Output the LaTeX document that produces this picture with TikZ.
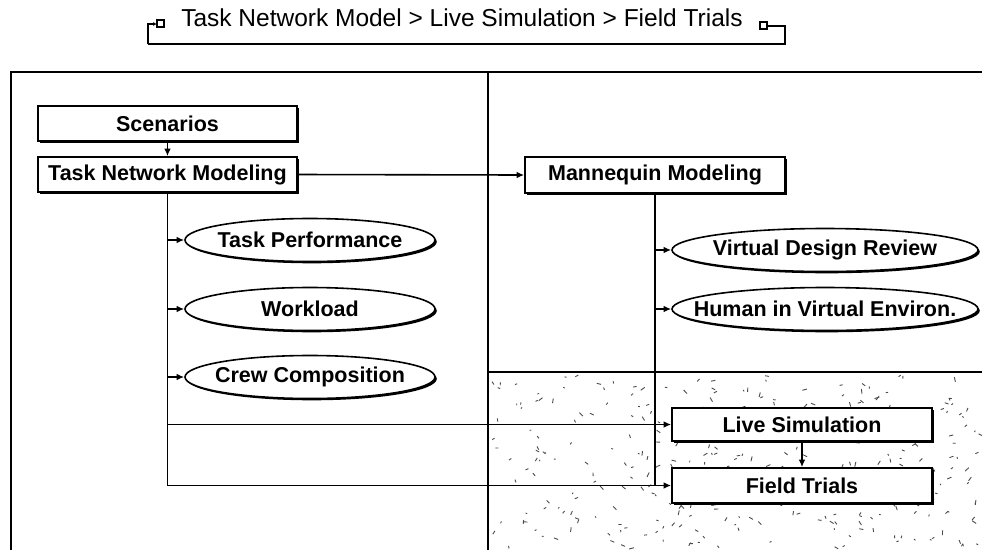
\documentclass[tikz,border=0pt]{standalone}
\usepackage{fontspec}
\setmainfont{Liberation Sans}
\usetikzlibrary{arrows.meta,shapes.geometric,shadows}
\begin{document}
\begin{tikzpicture}[x=1pt,y=-1pt,
  line width=1.6pt,
  arr/.style={-{Latex[length=7.5pt,width=6.5pt]}},
  shad/.style={drop shadow={shadow xshift=1.8pt,shadow yshift=-1.8pt,fill=black,opacity=1}},
  boxnode/.style={draw,fill=white,rectangle,minimum width=259pt,minimum height=35pt,inner sep=0pt,font=\fontsize{21.5}{23}\selectfont\bfseries,shad},
  ellnode/.style={draw,fill=white,ellipse,minimum height=43pt,inner xsep=-40pt,inner ysep=0pt,font=\fontsize{21.5}{23}\selectfont\bfseries,shad},
]
\useasboundingbox (0,0) rectangle (982,550);
\fill[white] (0,0) rectangle (982,550);

% stippled region
\pgfmathsetseed{4711}
\foreach \i in {1,...,330}{
  \pgfmathsetmacro\px{490+rnd*490}
  \pgfmathsetmacro\py{375+rnd*173}
  \pgfmathsetmacro\pa{rnd*180}
  \pgfmathsetmacro\pl{1.5+rnd*3.5}
  \draw[black!70,line width=0.9pt] (\px,\py) -- ++(\pa:\pl);
}

% frame and dividers
\draw (982,72) -- (11,72) -- (11,550);
\draw (488,72) -- (488,550);
\draw (488,372) -- (982,372);

% title
\node[anchor=base,font=\fontsize{24.5}{26}\selectfont] (title) at (462,26) {Task Network Model > Live Simulation > Field Trials};
\coordinate (tl) at (148,24);
\coordinate (tr) at (785,26);
\draw[line width=1.2pt] (157,20) rectangle (164,27);
\draw[line width=1.2pt,-{Latex[length=4pt,width=4pt]}] (148,44) -- (tl) -- (157,24);
\draw[line width=1.2pt] (148,44) -- (785,44) -- (tr) -- (767,26);
\draw[line width=1.2pt,fill=white] (760,22) rectangle (767,29);

% boxes
\node[boxnode] (sc) at (167.5,123.5) {Scenarios};
\node[boxnode] (tnm) at (167.5,174.5) {Task Network Modeling};
\node[boxnode,minimum width=260pt,minimum height=36pt] (mm) at (655,175) {Mannequin Modeling};
\node[boxnode,minimum width=260pt,minimum height=33pt] (ls) at (802,424.5) {Live Simulation};
\node[boxnode,minimum width=260pt,minimum height=35pt] (ft) at (802,485.5) {Field Trials};

% ellipses
\node[ellnode,minimum width=250pt] (tp) at (310,240) {Task Performance};
\node[ellnode,minimum width=250pt] (wl) at (310,309) {Workload};
\node[ellnode,minimum width=250pt] (cc) at (310,377) {Crew Composition};
\node[ellnode,minimum width=306pt] (vdr) at (825,250) {Virtual Design Review};
\node[ellnode,minimum width=306pt] (hve) at (825,309) {Human in Virtual Environ.};

% connectors
\draw[arr] (sc) -- (tnm);
\draw[arr] (tnm.east) -- (mm.west);
\draw (tnm.south) -- (tnm.south |- ft.west);
\draw[arr] (tnm.south |- tp.west) -- (tp.west);
\draw[arr] (tnm.south |- wl.west) -- (wl.west);
\draw[arr] (tnm.south |- cc.west) -- (cc.west);
\draw[arr] (tnm.south |- ls.west) -- (ls.west);
\draw[arr] (tnm.south |- ft.west) -- (ft.west);
\draw (mm.south) -- (mm.south |- ft.west);
\draw[arr] (mm.south |- vdr.west) -- (vdr.west);
\draw[arr] (mm.south |- hve.west) -- (hve.west);
\draw[arr] (ls) -- (ft);
\end{tikzpicture}
\end{document}
